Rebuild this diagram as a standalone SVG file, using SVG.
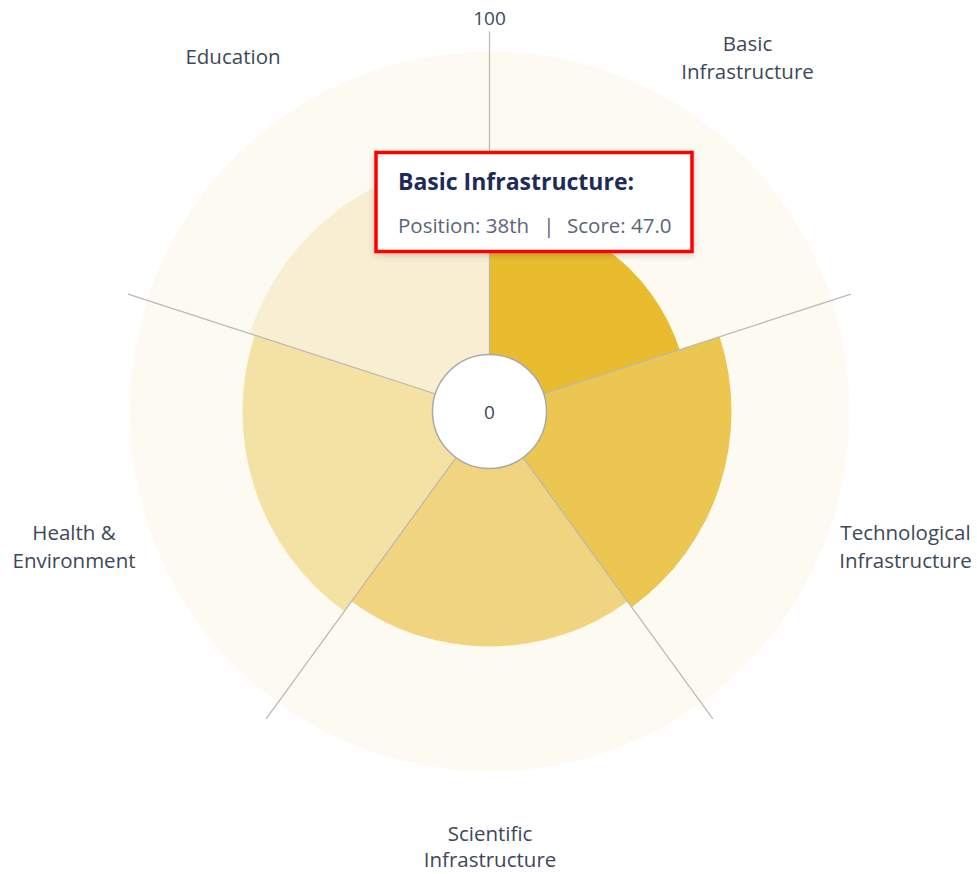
<svg xmlns="http://www.w3.org/2000/svg" width="977" height="874" viewBox="0 0 977 874">
  <defs>
    <style>
      .lbl { font-family: "Open Sans", "Liberation Sans", sans-serif; font-size: 20.5px; fill: #3d4858; text-anchor: middle; }
      .axis { stroke: #b9b7b2; stroke-width: 1.2; fill: none; }
      .tt-title { font-family: "Open Sans", "Liberation Sans", sans-serif; font-size: 23px; font-weight: bold; fill: #1d2b5b; }
      .tt-body { font-family: "Open Sans", "Liberation Sans", sans-serif; font-size: 20.5px; fill: #5b6579; }
    </style>
    <filter id="shadow" x="-10%" y="-10%" width="120%" height="130%">
      <feDropShadow dx="0" dy="2" stdDeviation="3" flood-color="#000000" flood-opacity="0.18"/>
    </filter>
  </defs>
  <rect x="0" y="0" width="977" height="874" fill="#ffffff"/>

  <g id="background">
    <circle cx="489.5" cy="411.5" r="360" fill="#fdfaf1"/>
  </g>

  <g id="sectors">
    <path id="sector-basic" d="M489.5,411.5 L489.5,211.5 A200,200 0 0,1 679.71,349.70 Z" fill="#e8bc2e"/>
    <path id="sector-technological" d="M489.5,411.5 L719.66,336.72 A242,242 0 0,1 631.74,607.28 Z" fill="#ebc752"/>
    <path id="sector-scientific" d="M489.5,411.5 L627.63,601.62 A235,235 0 0,1 351.37,601.62 Z" fill="#f0d47f"/>
    <path id="sector-health" d="M489.5,411.5 L344.32,611.33 A247,247 0 0,1 254.59,335.17 Z" fill="#f4e1a4"/>
    <path id="sector-education" d="M489.5,411.5 L249.83,333.62 A252,252 0 0,1 489.5,159.5 Z" fill="#f8eed2"/>
  </g>

  <g id="connectors">
    <line class="axis" x1="489.5" y1="411.5" x2="489.5" y2="31.5"/>
    <line class="axis" x1="489.5" y1="411.5" x2="850.9" y2="294.07"/>
    <line class="axis" x1="489.5" y1="411.5" x2="712.86" y2="718.93"/>
    <line class="axis" x1="489.5" y1="411.5" x2="266.14" y2="718.93"/>
    <line class="axis" x1="489.5" y1="411.5" x2="128.1" y2="294.07"/>
  </g>

  <g id="center">
    <circle cx="489.5" cy="411.5" r="57" fill="#ffffff" stroke="#a9a9a9" stroke-width="1.5"/>
    <text class="lbl" x="489.5" y="418.5" style="font-size:19px">0</text>
  </g>

  <g id="scale-max">
    <text class="lbl" x="489.5" y="25" style="font-size:19px">100</text>
  </g>

  <g id="label-basic">
    <text class="lbl" x="747.5" y="51">Basic</text>
    <text class="lbl" x="747.5" y="79">Infrastructure</text>
  </g>
  <g id="label-technological">
    <text class="lbl" x="905.5" y="540">Technological</text>
    <text class="lbl" x="905.5" y="568">Infrastructure</text>
  </g>
  <g id="label-scientific">
    <text class="lbl" x="490" y="841">Scientific</text>
    <text class="lbl" x="490" y="867">Infrastructure</text>
  </g>
  <g id="label-health">
    <text class="lbl" x="74" y="540">Health &amp;</text>
    <text class="lbl" x="74" y="568">Environment</text>
  </g>
  <g id="label-education">
    <text class="lbl" x="233" y="64">Education</text>
  </g>

  <g id="tooltip">
    <rect x="376" y="152.5" width="316" height="99" fill="#ffffff" stroke="#ff0000" stroke-width="3.5" filter="url(#shadow)"/>
    <text class="tt-title" x="398" y="190">Basic Infrastructure:</text>
    <text class="tt-body" x="398" y="233">Position: 38th</text>
    <text class="tt-body" x="549" y="233" text-anchor="middle">|</text>
    <text class="tt-body" x="567" y="233">Score: 47.0</text>
  </g>
</svg>
